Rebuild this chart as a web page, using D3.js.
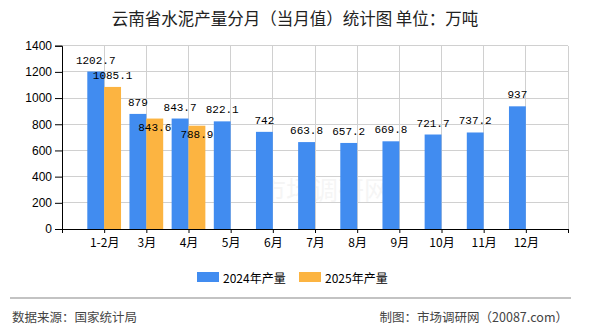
<!DOCTYPE html>
<html>
<head>
<meta charset="utf-8">
<script src="https://cdn.jsdelivr.net/npm/d3@7"></script>
<style>
html,body{margin:0;padding:0;background:#fff;}
svg{display:block;}
</style>
</head>
<body>
<svg id="chart" width="590" height="330"></svg>
<script>
const categories = ["1-2月","3月","4月","5月","6月","7月","8月","9月","10月","11月","12月"];
const values2024 = [1202.7, 879, 843.7, 822.1, 742, 663.8, 657.2, 669.8, 721.7, 737.2, 937];
const values2025 = [1085.1, 843.6, 788.9];
const yTicks = [0,200,400,600,800,1000,1200,1400];
const seriesNames = ["2024年产量","2025年产量"];
const colors = ["#418CF0","#FCB441"];
const titleText = "云南省水泥产量分月（当月值）统计图 单位：万吨";
const sourceText = "数据来源：国家统计局";
const creditText = "制图：市场调研网（20087.com）";

const svg = d3.select("#chart");
const pL = 62, pR = 568, pT = 45.7, pB = 229;
const x = d3.scaleLinear().domain([0, categories.length + 1]).range([pL, pR]);
const y = d3.scaleLinear().domain([0, 1400]).range([pB, pT]);
const bw = (x(1) - x(0)) * 0.4;
const monoFont = "'Liberation Mono','DejaVu Sans Mono',monospace";
const sansFont = "'Liberation Sans','Noto Sans CJK SC',sans-serif";
const cjk = "'Noto Sans CJK SC','Liberation Sans',sans-serif";

// title
svg.append("text").attr("x", 295).attr("y", 18).attr("text-anchor","middle")
  .attr("dominant-baseline","central").attr("font-family", cjk).attr("font-size", 16.5)
  .attr("fill","#222").text(titleText);

// watermark (faint)
svg.append("text").attr("x", 325).attr("y", 200).attr("text-anchor","middle")
  .attr("font-family", cjk).attr("font-size", 26).attr("fill","#000").attr("opacity",0.035)
  .text("市场调研网");

// grid
const g = svg.append("g");
g.selectAll("line.hg").data(yTicks.filter(d => d > 0)).join("line")
  .attr("x1", pL).attr("x2", pR).attr("y1", d => y(d)).attr("y2", d => y(d))
  .attr("stroke","#d0d0d0").attr("stroke-width",1).attr("shape-rendering","crispEdges");
g.selectAll("line.vg").data(d3.range(1, categories.length + 2)).join("line")
  .attr("x1", d => x(d)).attr("x2", d => x(d)).attr("y1", pT).attr("y2", pB)
  .attr("stroke","#d0d0d0").attr("stroke-width",1).attr("shape-rendering","crispEdges");

// bars
const data24 = values2024.map((v,i) => ({v, i}));
const data25 = values2025.map((v,i) => ({v, i}));
svg.append("g").selectAll("rect").data(data24).join("rect")
  .attr("x", d => x(d.i + 1) - bw).attr("width", bw)
  .attr("y", d => y(d.v)).attr("height", d => pB - y(d.v)).attr("fill", colors[0]);
svg.append("g").selectAll("rect").data(data25).join("rect")
  .attr("x", d => x(d.i + 1)).attr("width", bw)
  .attr("y", d => y(d.v)).attr("height", d => pB - y(d.v)).attr("fill", colors[1]);

// axes
const yAxis = d3.axisLeft(y).tickValues(yTicks).tickFormat(d3.format("d")).tickSize(7).tickPadding(3);
const ya = svg.append("g").attr("transform", `translate(${pL},0)`).call(yAxis);
ya.select(".domain").attr("stroke","#000");
ya.selectAll(".tick line").attr("stroke","#000");
ya.selectAll(".tick text").attr("font-family", sansFont).attr("font-size", 12).attr("fill","#000");

const xAxis = d3.axisBottom(x).tickValues(d3.range(0, categories.length + 2)).tickSize(4).tickSizeOuter(0)
  .tickFormat(d => (d >= 1 && d <= categories.length) ? categories[d - 1] : "").tickPadding(5);
const xa = svg.append("g").attr("transform", `translate(0,${pB})`).call(xAxis);
xa.select(".domain").attr("stroke","#000");
xa.selectAll(".tick line").attr("stroke","#000");
xa.selectAll(".tick text").attr("font-family", cjk).attr("font-size", 12).attr("fill","#000");

// value labels
const lab24 = data24.map(d => ({text: String(d.v), cx: x(d.i + 1) - bw/2, y: y(d.v) - 8}));
svg.append("g").selectAll("text").data(lab24).join("text")
  .attr("x", d => d.cx).attr("y", d => d.y).attr("text-anchor","middle")
  .attr("font-family", monoFont).attr("font-size", 11).attr("fill","#000").text(d => d.text);
const lab25 = data25.map(d => {
  let ly = y(d.v) - 8;
  const other = lab24[d.i].y;
  if (Math.abs(ly - other) < 14) ly = y(d.v) + 12.5;
  return {text: String(d.v), cx: x(d.i + 1) + bw/2, y: ly};
});
svg.append("g").selectAll("text").data(lab25).join("text")
  .attr("x", d => d.cx).attr("y", d => d.y).attr("text-anchor","middle")
  .attr("font-family", monoFont).attr("font-size", 11).attr("fill","#000").text(d => d.text);

// legend
const legend = svg.append("g");
const legX = [197, 299];
seriesNames.forEach((n, i) => {
  legend.append("rect").attr("x", legX[i]).attr("y", 272).attr("width", 22).attr("height", 10).attr("fill", colors[i]);
  legend.append("text").attr("x", legX[i] + 26).attr("y", 277).attr("dominant-baseline","central")
    .attr("font-family", cjk).attr("font-size", 12).attr("fill","#000").text(n);
});

// footer
svg.append("line").attr("x1", 10).attr("x2", 571).attr("y1", 298).attr("y2", 298)
  .attr("stroke","#888").attr("stroke-width",1.2);
svg.append("text").attr("x", 12).attr("y", 316).attr("dominant-baseline","central")
  .attr("font-family", cjk).attr("font-size", 12.5).attr("fill","#444").text(sourceText);
svg.append("text").attr("x", 568).attr("y", 316).attr("dominant-baseline","central").attr("text-anchor","end")
  .attr("font-family", cjk).attr("font-size", 12.5).attr("fill","#444").text(creditText);
</script>
</body>
</html>
